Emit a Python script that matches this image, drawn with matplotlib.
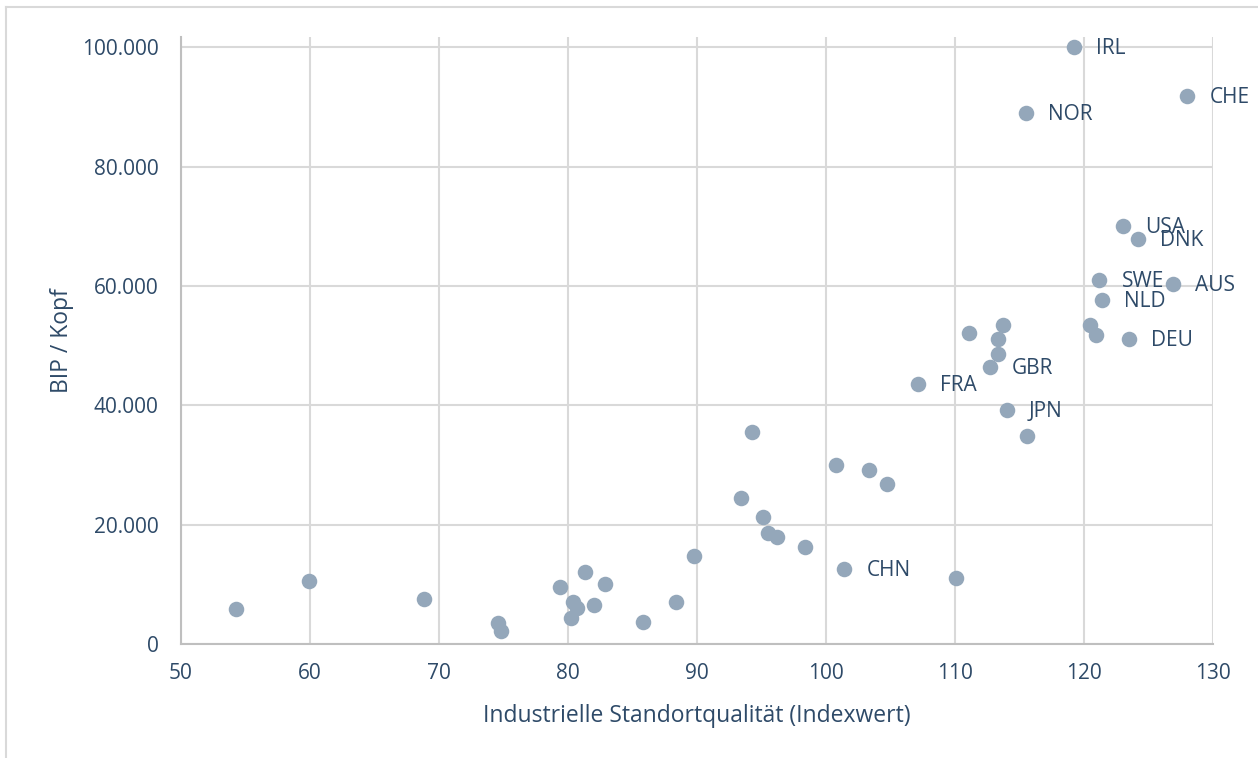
import matplotlib.pyplot as plt
from matplotlib.ticker import FuncFormatter
from matplotlib.lines import Line2D

# Industrial location quality index vs GDP per capita
x_vals = [54.3, 59.9, 68.8, 74.6, 74.8, 79.4, 81.3, 82.9, 80.4, 80.7,
          82.0, 80.2, 85.8, 88.4, 89.8, 94.3, 93.4, 95.1, 95.5, 96.2,
          98.4, 100.8, 103.3, 104.7, 101.4, 110.1,
          123.0, 124.2, 121.2, 126.9, 121.4, 120.5, 120.9, 123.5,
          111.1, 113.7, 113.3, 113.3, 112.7, 107.1, 114.0, 115.6,
          119.2, 128.0, 115.5]
y_vals = [5900, 10550, 7500, 3500, 2200, 9600, 12100, 10000, 7000, 6000,
          6550, 4300, 3700, 7000, 14800, 35600, 24500, 21300, 18650, 17900,
          16200, 30050, 29250, 26750, 12500, 11050,
          70100, 67900, 60950, 60400, 57700, 53550, 51850, 51100,
          52100, 53500, 51100, 48650, 46450, 43550, 39250, 34950,
          100100, 91900, 89000]
labels = [""] * 24 + ["CHN", ""] + \
         ["USA", "DNK", "SWE", "AUS", "NLD", "", "", "DEU",
          "", "", "", "", "GBR", "FRA", "JPN", "",
          "IRL", "CHE", "NOR"]

text_color = "#2E4A68"
point_color = "#94A7BA"
font = "Open Sans"

fig = plt.figure(figsize=(12.58, 7.58), dpi=100)
ax = fig.add_axes([181 / 1258, 1 - 644 / 758, (1213 - 181) / 1258, (644 - 37) / 758])

ax.scatter(x_vals, y_vals, s=125, color=point_color, zorder=3, linewidths=0)
for x, y, lab in zip(x_vals, y_vals, labels):
    if lab:
        ax.annotate(lab, (x, y), xytext=(16, -1), textcoords="offset points",
                    ha="left", va="center", fontsize=15, color=text_color,
                    family=font, zorder=4)

ax.set_xlim(50, 130)
ax.set_ylim(0, 101750)
ax.set_xticks(range(50, 131, 10))
ax.set_yticks(range(0, 100001, 20000))
ax.yaxis.set_major_formatter(FuncFormatter(lambda v, p: f"{int(v):,}".replace(",", ".")))

ax.grid(True, color="#D9D9D9", linewidth=1.5, zorder=0)
ax.set_axisbelow(True)
for side in ["top", "right"]:
    ax.spines[side].set_visible(False)
for side in ["left", "bottom"]:
    ax.spines[side].set_color("#BFBFBF")
    ax.spines[side].set_linewidth(1.5)
ax.tick_params(length=0, labelsize=15, labelcolor=text_color)
ax.tick_params(axis="x", pad=14)
ax.tick_params(axis="y", pad=16)
for t in ax.get_xticklabels() + ax.get_yticklabels():
    t.set_family(font)

ax.set_xlabel("Industrielle Standortqualität (Indexwert)", fontsize=16.5,
              color=text_color, family=font, labelpad=14)
ax.set_ylabel("BIP / Kopf", fontsize=16.5, color=text_color, family=font, labelpad=6)

# partial outer frame (top and left edge of chart area)
fig.add_artist(Line2D([6 / 1258, 1], [1 - 7 / 758, 1 - 7 / 758], color="#D9D9D9",
                      linewidth=1.5, transform=fig.transFigure))
fig.add_artist(Line2D([6 / 1258, 6 / 1258], [0, 1 - 7 / 758], color="#D9D9D9",
                      linewidth=1.5, transform=fig.transFigure))

fig.savefig("out.png", dpi=100)
